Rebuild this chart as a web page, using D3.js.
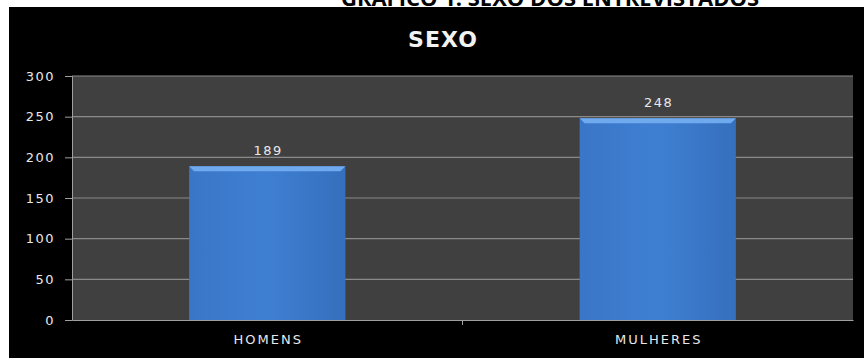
<!DOCTYPE html>
<html>
<head>
<meta charset="utf-8">
<script src="https://cdn.jsdelivr.net/npm/d3@7"></script>
<style>
  body { margin: 0; background: #fff; }
  svg { display: block; font-family: "DejaVu Sans", sans-serif; }
</style>
</head>
<body>
<svg id="chart"></svg>
<script>
var categories = ["HOMENS", "MULHERES"];
var values = [189, 248];
var yTicks = [0, 50, 100, 150, 200, 250, 300];

var width = 864, height = 358;
var margin = { top: 76, right: 11, bottom: 38, left: 72 };

var svg = d3.select("#chart")
    .attr("width", width)
    .attr("height", height);

// page title, cut off at the top of the picture
svg.append("text")
    .attr("x", 550)
    .attr("y", 6)
    .attr("text-anchor", "middle")
    .style("font-family", "'Open Sans', sans-serif")
    .style("font-size", "22px")
    .style("font-weight", "bold")
    .style("fill", "#000")
    .text("GRÁFICO 1: SEXO DOS ENTREVISTADOS");

svg.append("rect")
    .attr("x", 9).attr("y", 7)
    .attr("width", width - 9).attr("height", height - 7)
    .attr("fill", "#000");

svg.append("text")
    .attr("x", 443)
    .attr("y", 47)
    .attr("text-anchor", "middle")
    .style("font-size", "22px")
    .style("font-weight", "bold")
    .style("letter-spacing", "1px")
    .style("fill", "#f2f2f2")
    .text("SEXO");

var defs = svg.append("defs");
var grad = defs.append("linearGradient")
    .attr("id", "barGrad")
    .attr("x1", 0).attr("x2", 1).attr("y1", 0).attr("y2", 0);
grad.append("stop").attr("offset", "0%").attr("stop-color", "#3a76c8");
grad.append("stop").attr("offset", "50%").attr("stop-color", "#3f7fd2");
grad.append("stop").attr("offset", "100%").attr("stop-color", "#356fbd");

var plotW = width - margin.left - margin.right;
var plotH = height - margin.top - margin.bottom;

var g = svg.append("g")
    .attr("transform", "translate(" + margin.left + "," + margin.top + ")");

var x = d3.scaleBand()
    .domain(categories)
    .range([0, plotW])
    .paddingInner(0.6)
    .paddingOuter(0.3);

var y = d3.scaleLinear()
    .domain([0, 300])
    .range([plotH, 0]);

g.append("rect")
    .attr("width", plotW)
    .attr("height", plotH)
    .attr("fill", "#404040");

g.append("g")
    .selectAll("line")
    .data(yTicks.slice(1))
    .enter().append("line")
    .attr("x1", 0).attr("x2", plotW)
    .attr("y1", function(d) { return y(d); })
    .attr("y2", function(d) { return y(d); })
    .attr("stroke", "#8a8a8a")
    .attr("stroke-width", 1.2);

var bar = g.append("g")
    .selectAll("g")
    .data(values)
    .enter().append("g");

bar.append("rect")
    .attr("x", function(d, i) { return x(categories[i]); })
    .attr("y", function(d) { return y(d); })
    .attr("width", x.bandwidth())
    .attr("height", function(d) { return plotH - y(d); })
    .attr("fill", "url(#barGrad)");

// bevel on top
bar.append("path")
    .attr("d", function(d, i) {
        var x0 = x(categories[i]), x1 = x0 + x.bandwidth(), t = y(d);
        return "M" + x0 + "," + t + "L" + x1 + "," + t +
               "L" + (x1 - 5) + "," + (t + 5) + "L" + (x0 + 5) + "," + (t + 5) + "Z";
    })
    .attr("fill", "#70aaee");

bar.append("text")
    .attr("x", function(d, i) { return x(categories[i]) + x.bandwidth() / 2 + 1; })
    .attr("y", function(d) { return y(d) - 11; })
    .attr("text-anchor", "middle")
    .style("font-size", "13px")
    .style("letter-spacing", "1.5px")
    .style("fill", "#e8e8e8")
    .text(function(d) { return d; });

var yAxis = g.append("g")
    .call(d3.axisLeft(y).tickValues(yTicks).tickSize(7).tickPadding(10));
yAxis.select(".domain").attr("stroke", "#a0a0a0");
yAxis.selectAll(".tick line").attr("stroke", "#a0a0a0");
yAxis.selectAll("text")
    .style("font-size", "13px")
    .style("letter-spacing", "1.5px")
    .style("font-family", "'DejaVu Sans', sans-serif")
    .attr("fill", "#e8e8e8");

var xAxis = g.append("g")
    .attr("transform", "translate(0," + plotH + ")")
    .call(d3.axisBottom(x).tickSize(0).tickPadding(15));
xAxis.select(".domain").attr("stroke", "#a0a0a0");
xAxis.selectAll("text")
    .attr("dx", "1px")
    .style("font-size", "13px")
    .style("letter-spacing", "2px")
    .style("font-family", "'DejaVu Sans', sans-serif")
    .attr("fill", "#e8e8e8");

// separator tick between categories
xAxis.append("line")
    .attr("x1", plotW / 2).attr("x2", plotW / 2)
    .attr("y1", 0).attr("y2", 5)
    .attr("stroke", "#a0a0a0");
</script>
</body>
</html>
